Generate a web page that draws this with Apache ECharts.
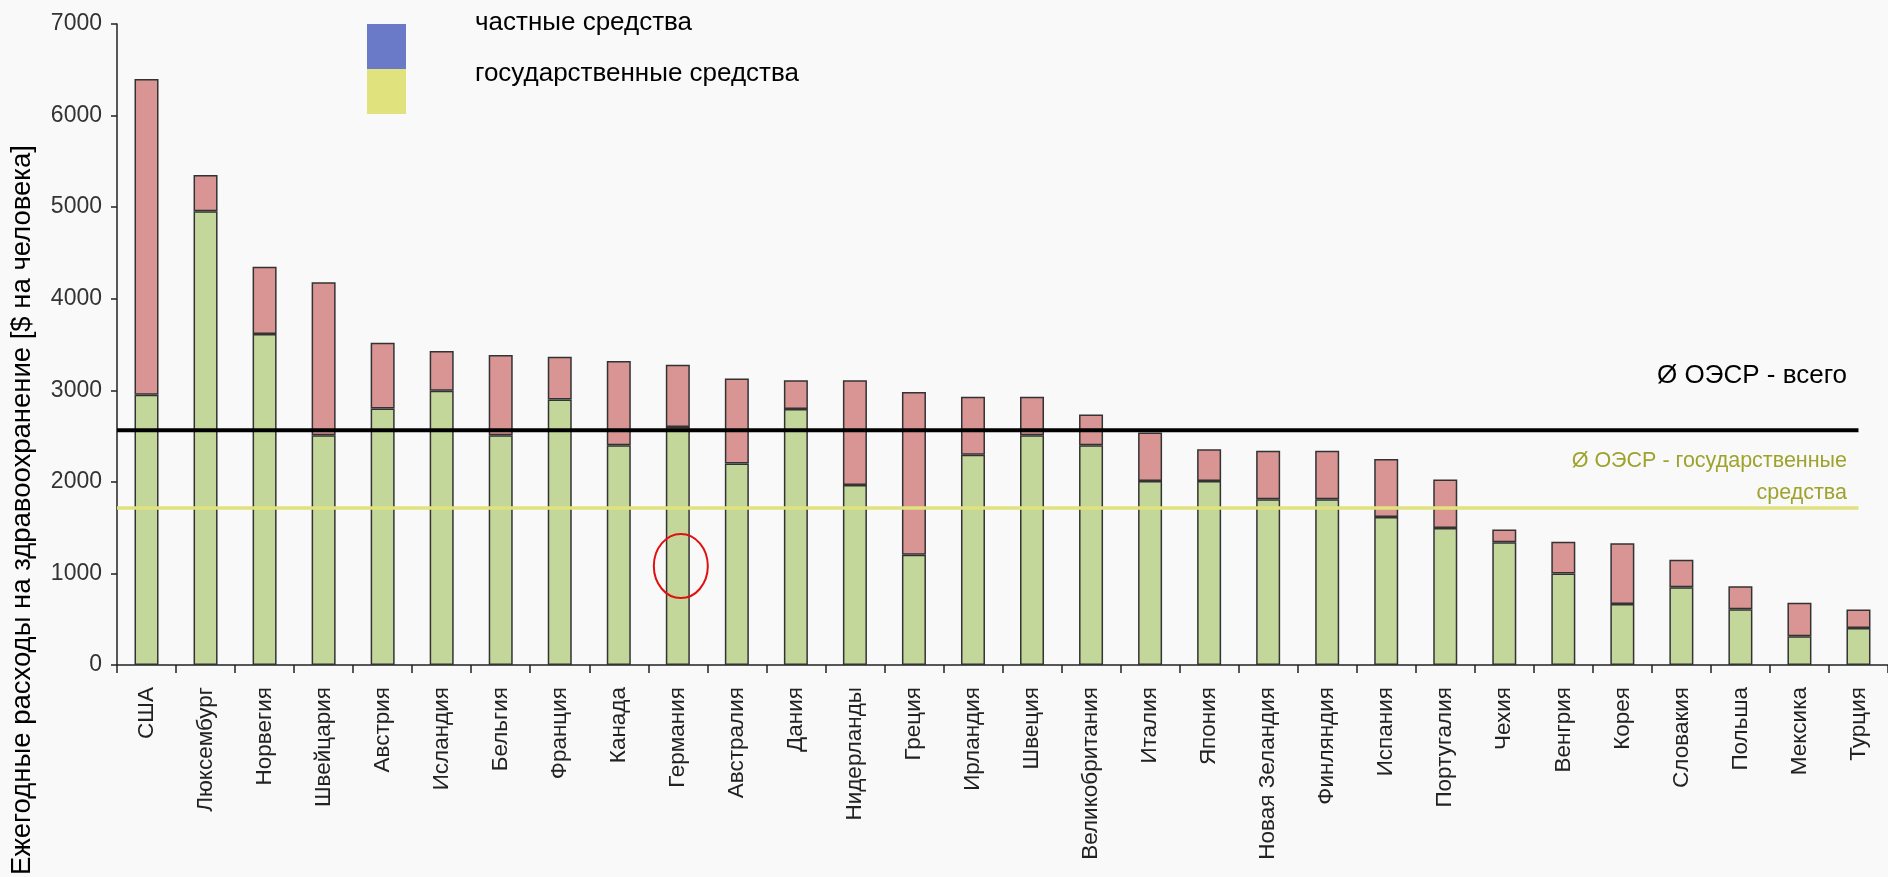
<!DOCTYPE html>
<html>
<head>
<meta charset="utf-8">
<script src="https://cdn.jsdelivr.net/npm/echarts@6/dist/echarts.min.js"></script>
<style>
  html, body { margin: 0; padding: 0; background: #f9f9f9; }
  #chart { width: 1888px; height: 877px; }
</style>
</head>
<body>
<div id="chart"></div>
<script>
// Health expenditure per capita, OECD countries ($ per person)
const countries = ['США', 'Люксембург', 'Норвегия', 'Швейцария', 'Австрия', 'Исландия', 'Бельгия', 'Франция',
  'Канада', 'Германия', 'Австралия', 'Дания', 'Нидерланды', 'Греция', 'Ирландия', 'Швеция',
  'Великобритания', 'Италия', 'Япония', 'Новая Зеландия', 'Финляндия', 'Испания', 'Португалия',
  'Чехия', 'Венгрия', 'Корея', 'Словакия', 'Польша', 'Мексика', 'Турция'];

// public (state) funds
const publicFunds = [2950, 4955, 3615, 2510, 2800, 2995, 2510, 2900, 2400, 2600, 2200, 2795, 1965, 1205, 2295,
  2510, 2400, 2010, 2010, 1810, 1810, 1615, 1495, 1340, 1000, 665, 850, 610, 315, 405];

// private funds (stacked on top of public funds)
const privateFunds = [3450, 395, 735, 1670, 720, 435, 875, 465, 920, 680, 930, 315, 1145, 1775, 635,
  420, 335, 530, 345, 530, 530, 635, 530, 140, 345, 665, 300, 250, 365, 200];

// OECD averages
const oecdTotal = 2563;
const oecdPublic = 1714;

const yTicks = { min: 0, max: 7000, interval: 1000 };

const legendNames = ['частные средства', 'государственные средства'];
const yTitle = 'Ежегодные расходы на здравоохранение [$ на человека]';
const oecdTotalLabel = 'Ø ОЭСР - всего';
const oecdPublicLabel = 'Ø ОЭСР - государственные\nсредства';
const highlighted = 'Германия';

const FONT = '"Liberation Sans", Arial, sans-serif';

const chart = echarts.init(document.getElementById('chart'), null, { renderer: 'canvas' });

const option = {
  backgroundColor: '#f9f9f9',
  animation: false,
  textStyle: { fontFamily: FONT },
  grid: { left: 117, top: 24, width: 1774, height: 641 },
  xAxis: [
    {
      type: 'category',
      data: countries,
      boundaryGap: true,
      axisLine: { lineStyle: { color: '#222', width: 1.5 } },
      axisTick: { show: true, length: 8, alignWithLabel: false, lineStyle: { color: '#222', width: 1.5 } },
      axisLabel: { rotate: 90, interval: 0, margin: 22, fontSize: 22.5, color: '#222', fontFamily: FONT }
    },
    {
      // helper axis in category units for the average lines
      type: 'value',
      min: 0,
      max: countries.length,
      show: false
    }
  ],
  yAxis: {
    type: 'value',
    min: yTicks.min,
    max: yTicks.max,
    interval: yTicks.interval,
    splitLine: { show: false },
    axisLine: { show: true, lineStyle: { color: '#222', width: 1.5 } },
    axisTick: { show: true, length: 6, lineStyle: { color: '#222', width: 1.5 } },
    axisLabel: { margin: 15, fontSize: 23, color: '#333', fontFamily: FONT, formatter: v => String(v) }
  },
  series: [
    {
      name: legendNames[1],
      type: 'bar',
      stack: 'total',
      barWidth: 24,
      data: publicFunds,
      itemStyle: { color: '#c4d79b', borderColor: '#333', borderWidth: 1.5 }
    },
    {
      name: legendNames[0],
      type: 'bar',
      stack: 'total',
      barWidth: 24,
      data: privateFunds,
      itemStyle: { color: '#d99594', borderColor: '#333', borderWidth: 1.5 }
    },
    {
      name: 'oecd-total',
      type: 'line',
      xAxisIndex: 1,
      data: [[0, oecdTotal], [countries.length - 0.5, oecdTotal]],
      showSymbol: false,
      symbol: 'none',
      lineStyle: { color: '#000', width: 4 },
      z: 5
    },
    {
      name: 'oecd-public',
      type: 'line',
      xAxisIndex: 1,
      data: [[0, oecdPublic], [countries.length - 0.5, oecdPublic]],
      showSymbol: false,
      symbol: 'none',
      lineStyle: { color: '#e0e27e', width: 3.5 },
      z: 5
    }
  ]
};

chart.setOption(option);

// red ring marking the highlighted country
const ringCenter = chart.convertToPixel({ xAxisIndex: 0, yAxisIndex: 0 }, [highlighted, 1080]);

chart.setOption({
  graphic: {
    elements: [
      // legend swatches and labels
      { id: 'swPrivate', type: 'rect', left: 367, top: 24, shape: { width: 39, height: 45 }, style: { fill: '#6b7ac8' } },
      { id: 'swPublic', type: 'rect', left: 367, top: 69, shape: { width: 39, height: 45 }, style: { fill: '#e0e27e' } },
      { id: 'lgPrivate', type: 'text', x: 475, y: 23, style: { text: legendNames[0], font: '26px ' + FONT, fill: '#000', textVerticalAlign: 'middle' } },
      { id: 'lgPublic', type: 'text', x: 475, y: 74, style: { text: legendNames[1], font: '26px ' + FONT, fill: '#000', textVerticalAlign: 'middle' } },
      // y axis title
      { id: 'yTitle', type: 'text', x: 22, y: 510, rotation: Math.PI / 2,
        style: { text: yTitle, font: '27.5px ' + FONT, fill: '#000', textAlign: 'center', textVerticalAlign: 'middle' } },
      // average line labels
      { id: 'avgTotal', type: 'text', x: 1847, y: 376, style: { text: oecdTotalLabel, font: '26px ' + FONT, fill: '#000', textAlign: 'right', textVerticalAlign: 'middle' } },
      { id: 'avgPublic', type: 'text', x: 1847, y: 477, style: { text: oecdPublicLabel, font: '21.5px ' + FONT, fill: '#9ea32c', textAlign: 'right', textVerticalAlign: 'middle', lineHeight: 32 } },
      { id: 'ring', type: 'ellipse', shape: { cx: ringCenter[0] + 3, cy: ringCenter[1], rx: 27, ry: 32 },
        style: { fill: 'none', stroke: '#e01010', lineWidth: 2 }, z: 100 }
    ]
  }
});
</script>
</body>
</html>
